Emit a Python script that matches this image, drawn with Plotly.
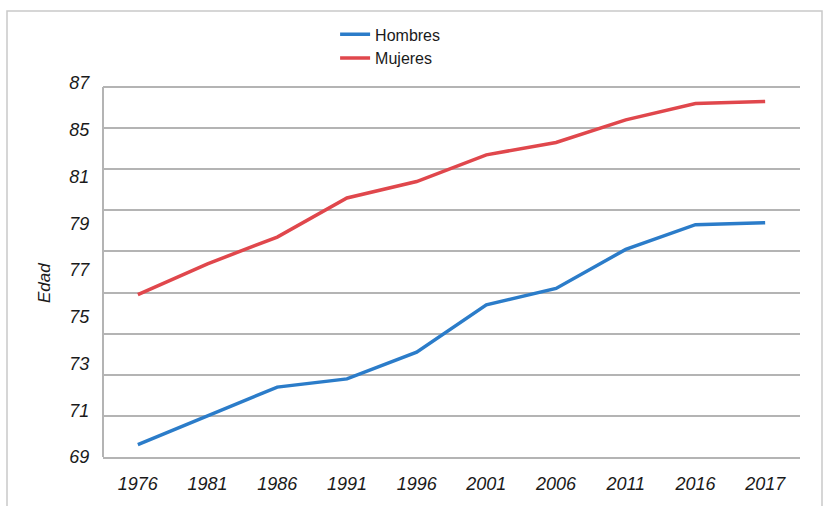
import plotly.graph_objects as go

# Esperanza de vida al nacer por sexo
years = ["1976", "1981", "1986", "1991", "1996", "2001", "2006", "2011", "2016", "2017"]
hombres = [69.6, 71.0, 72.4, 72.8, 74.1, 76.4, 77.2, 79.1, 80.3, 80.4]
mujeres = [76.9, 78.4, 79.7, 81.6, 82.4, 83.7, 84.3, 85.4, 86.2, 86.3]

# Etiquetas del eje vertical tal como se rotulan
y_labels = ["69", "71", "73", "75", "77", "79", "81", "85", "87"]

BLUE = "#2b7cc9"
RED = "#e0474c"
GRID = "#b4b4b4"
TEXT = "#1a1a1a"
FONT = "Liberation Sans"

W, H = 824, 506
ML, MR, MT, MB = 103, 24, 80, 49
plot_h = H - MT - MB
y_min, y_max_grid = 69, 87
px_per_unit = (plot_h - 7) / (y_max_grid - y_min)
y_top = y_min + plot_h / px_per_unit
label_step_px = 46.75

fig = go.Figure()
fig.add_trace(go.Scatter(x=years, y=hombres, name="Hombres", mode="lines",
                         line=dict(color=BLUE, width=3.5)))
fig.add_trace(go.Scatter(x=years, y=mujeres, name="Mujeres", mode="lines",
                         line=dict(color=RED, width=3.5)))
# eje auxiliar que sólo lleva los rótulos verticales
fig.add_trace(go.Scatter(x=[], y=[], yaxis="y2", showlegend=False, hoverinfo="skip"))

fig.update_layout(
    width=W, height=H,
    margin=dict(l=ML, r=MR, t=MT, b=MB),
    paper_bgcolor="white", plot_bgcolor="white",
    font=dict(family=FONT, color=TEXT),
    showlegend=True,
    legend=dict(x=0.333, y=1.166, xanchor="left", yanchor="top",
                orientation="v", bgcolor="rgba(0,0,0,0)",
                font=dict(size=16, color=TEXT),
                tracegroupgap=0, itemwidth=30),
    xaxis=dict(type="category", range=[-0.5, len(years) - 0.5],
               showgrid=False, zeroline=False,
               showline=True, linecolor=GRID, linewidth=2,
               ticks="outside", ticklen=9, tickcolor="rgba(0,0,0,0)",
               tickfont=dict(size=18, style="italic", color=TEXT)),
    yaxis=dict(range=[y_min, y_top], tick0=y_min, dtick=2,
               showgrid=True, gridcolor=GRID, gridwidth=2,
               zeroline=False, showline=False, showticklabels=False, ticks=""),
    yaxis2=dict(overlaying="y", side="left", range=[0, plot_h / label_step_px],
                tickvals=list(range(len(y_labels))), ticktext=y_labels,
                showgrid=False, zeroline=False, showline=False,
                ticks="outside", ticklen=9, tickcolor="rgba(0,0,0,0)",
                tickfont=dict(size=18, style="italic", color=TEXT)),
    annotations=[dict(text="Edad", textangle=-90, showarrow=False,
                      xref="paper", yref="paper", x=(44 - ML) / (W - ML - MR),
                      y=(H - MB - 283) / plot_h, xanchor="center", yanchor="middle",
                      font=dict(size=17, style="italic", color=TEXT))],
    shapes=[
        # línea del eje vertical, hasta la última línea de rejilla
        dict(type="line", xref="paper", yref="y", x0=0, x1=0, y0=y_min, y1=y_max_grid,
             line=dict(color=GRID, width=2)),
        # marco exterior
        dict(type="rect", xref="paper", yref="paper",
             x0=(7 - ML) / (W - ML - MR), x1=(822 - ML) / (W - ML - MR),
             y0=(H - MB - 530) / plot_h, y1=(H - MB - 11) / plot_h,
             line=dict(color="#c9c9c9", width=1.5), layer="below"),
    ],
)

fig.write_html("out.html")
